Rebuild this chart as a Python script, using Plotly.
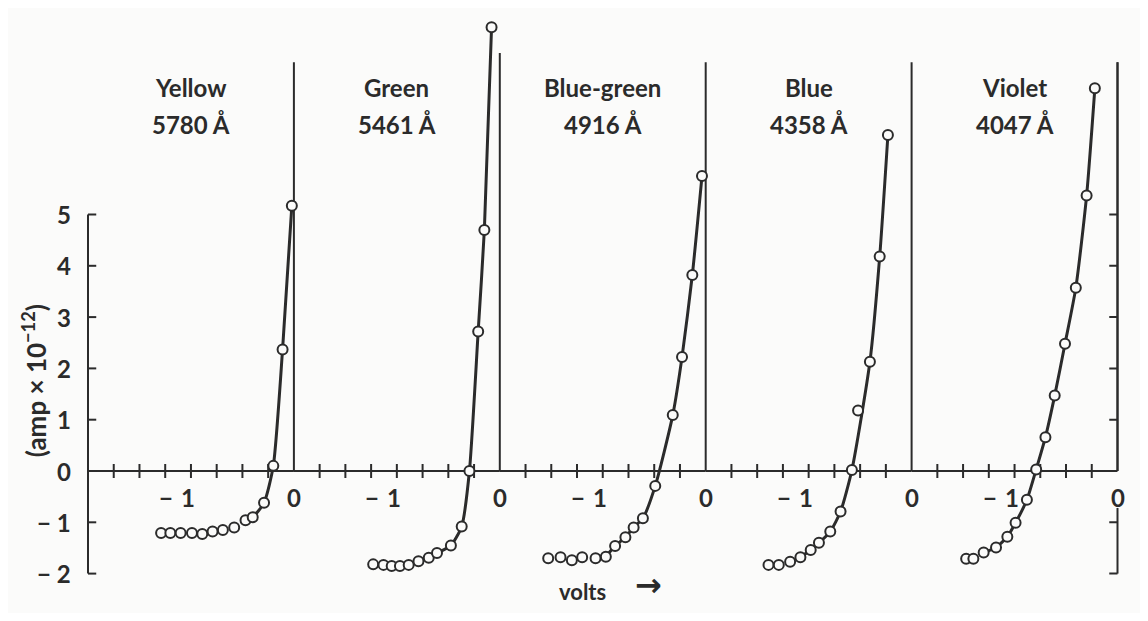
import plotly.graph_objects as go

# ---------------- data ----------------
panel_names = ["Yellow", "Green", "Blue-green", "Blue", "Violet"]
wavelengths = ["5780 Å", "5461 Å", "4916 Å", "4358 Å", "4047 Å"]

yellow_volts = [-1.29, -1.20, -1.10, -0.99, -0.89, -0.79, -0.69, -0.58, -0.47, -0.40, -0.29, -0.20, -0.11, -0.02]
yellow_amp = [-1.21, -1.21, -1.21, -1.21, -1.23, -1.18, -1.15, -1.10, -0.96, -0.90, -0.62, 0.10, 2.37, 5.17]

green_volts = [-1.23, -1.13, -1.05, -0.97, -0.885, -0.79, -0.69, -0.61, -0.475, -0.37, -0.295, -0.21, -0.15, -0.08]
green_amp = [-1.82, -1.83, -1.85, -1.85, -1.83, -1.76, -1.69, -1.60, -1.45, -1.08, 0.0, 2.72, 4.7, 8.65]

bluegreen_volts = [-1.53, -1.41, -1.30, -1.20, -1.07, -0.97, -0.88, -0.78, -0.70, -0.61, -0.49, -0.32, -0.23, -0.13, -0.036]
bluegreen_amp = [-1.70, -1.68, -1.74, -1.68, -1.70, -1.67, -1.46, -1.29, -1.10, -0.92, -0.29, 1.09, 2.22, 3.82, 5.75]

blue_volts = [-1.39, -1.29, -1.18, -1.08, -0.98, -0.90, -0.79, -0.69, -0.58, -0.52, -0.405, -0.31, -0.23]
blue_amp = [-1.83, -1.83, -1.77, -1.68, -1.54, -1.40, -1.18, -0.79, 0.02, 1.18, 2.13, 4.18, 6.55]

violet_volts = [-1.47, -1.40, -1.30, -1.18, -1.07, -0.99, -0.88, -0.79, -0.70, -0.61, -0.51, -0.405, -0.30, -0.22]
violet_amp = [-1.71, -1.71, -1.59, -1.49, -1.28, -1.01, -0.56, 0.03, 0.66, 1.47, 2.48, 3.57, 5.37, 7.46]

series_volts = [yellow_volts, green_volts, bluegreen_volts, blue_volts, violet_volts]
series_amp = [yellow_amp, green_amp, bluegreen_amp, blue_amp, violet_amp]

# index of the first point that the drawn curve passes through
curve_start = [8, 7, 5, 3, 2]
# points that lie off the drawn curve
off_curve = [[], [], [], [9], []]

y_tick_vals = [-2, -1, 0, 1, 2, 3, 4, 5]
y_tick_text = ["\u2212 2", "\u2212 1", "0", "1", "2", "3", "4", "5"]
right_tick_vals = [-2, -1, 1, 2, 3, 4, 5]
x_tick_vals = [-1, 0]
x_tick_text = ["\u2212\u20041", "0"]
x_minor_ticks = [-1.75, -1.5, -1.25, -1.0, -0.75, -0.5, -0.25]
vline_tops = [7.97, 8.15, 7.97, 7.97, 7.97]

# ---------------- layout constants ----------------
OFF = 8                      # page margin around the figure
W, H = 1148 - 2 * OFF, 621 - 2 * OFF
LEFT_PX, PANEL_PX, PAD_PX = 88.0 - OFF, 205.9, 20.0
ZERO_PX, UNIT_PX = 471.0 - OFF, 51.3
V_PER_PX = 2.0 / PANEL_PX
INK = "#2b2b2b"
BG = "#fbfbfa"
FONT = "Lato"
RIGHT_AXIS_PAPER = (LEFT_PX + 5 * PANEL_PX) / W


def px_x(X):
    return (X - OFF) / W


def px_y(Y):
    return 1 - (Y - OFF) / H


fig = go.Figure()

for i in range(5):
    xa = "x" if i == 0 else f"x{i+1}"
    vx = series_volts[i]
    vy = series_amp[i]
    # zero-volt line of the panel (the last one is the right-hand axis)
    fig.add_trace(go.Scatter(x=[0, 0], y=[0, vline_tops[i]], mode="lines", xaxis=xa, yaxis="y",
                             line=dict(color=INK, width=2), cliponaxis=False,
                             hoverinfo="skip", showlegend=False))
    cx = [v for k, v in enumerate(vx) if k >= curve_start[i] and k not in off_curve[i]]
    cy = [v for k, v in enumerate(vy) if k >= curve_start[i] and k not in off_curve[i]]
    fig.add_trace(go.Scatter(x=cx, y=cy, mode="lines", xaxis=xa, yaxis="y",
                             line=dict(color=INK, width=3, shape="spline", smoothing=0.6),
                             hoverinfo="skip", showlegend=False))
    fig.add_trace(go.Scatter(x=x_minor_ticks, y=[0] * len(x_minor_ticks), mode="markers",
                             xaxis=xa, yaxis="y", cliponaxis=False,
                             marker=dict(symbol="line-ns", size=10, line=dict(color=INK, width=2)),
                             hoverinfo="skip", showlegend=False))
    fig.add_trace(go.Scatter(x=vx, y=vy, mode="markers", xaxis=xa, yaxis="y", cliponaxis=False,
                             marker=dict(symbol="circle", size=10, color=BG,
                                         line=dict(color=INK, width=2)),
                             name=panel_names[i], showlegend=False))

layout = dict(
    width=W, height=H,
    margin=dict(l=0, r=0, t=0, b=0),
    paper_bgcolor=BG, plot_bgcolor="rgba(0,0,0,0)",
    showlegend=False,
    yaxis=dict(range=[-(H - ZERO_PX) / UNIT_PX, ZERO_PX / UNIT_PX], domain=[0, 1],
               visible=False, anchor="x"),
)
for i in range(5):
    key = "xaxis" if i == 0 else f"xaxis{i+1}"
    layout[key] = dict(range=[-2 - PAD_PX * V_PER_PX, PAD_PX * V_PER_PX], visible=False, anchor="y",
                       domain=[(LEFT_PX + PANEL_PX * i - PAD_PX) / W,
                               (LEFT_PX + PANEL_PX * (i + 1) + PAD_PX) / W])
fig.update_layout(**layout)

shapes = []
annotations = []
line_style = dict(color=INK, width=2)
for i in range(5):
    xr = "x" if i == 0 else f"x{i+1}"
    shapes.append(dict(type="line", xref=xr, yref="y", x0=-2, x1=0, y0=0, y1=0,
                       line=line_style, layer="below"))
    for v, t in zip(x_tick_vals, x_tick_text):
        annotations.append(dict(xref=xr, yref="y", x=v, y=0, text=t, showarrow=False,
                                xanchor="right" if v < 0 else "center", xshift=6 if v < 0 else 0,
                                yanchor="top", yshift=-10,
                                font=dict(family=FONT, size=24, color=INK, weight="bold")))
    annotations.append(dict(xref=xr, yref="y", x=-1, y=(ZERO_PX - (87.5 - OFF)) / UNIT_PX,
                            text=panel_names[i], showarrow=False,
                            font=dict(family=FONT, size=24, color=INK, weight="bold")))
    annotations.append(dict(xref=xr, yref="y", x=-1, y=(ZERO_PX - (124 - OFF)) / UNIT_PX,
                            text=wavelengths[i], showarrow=False,
                            font=dict(family=FONT, size=24, color=INK, weight="bold")))

# left amp axis
shapes.append(dict(type="line", xref="x", yref="y", x0=-2, x1=-2, y0=-2, y1=5,
                   line=line_style, layer="below"))
for v, t in zip(y_tick_vals, y_tick_text):
    shapes.append(dict(type="line", xref="x", yref="y", x0=-2, x1=-1.92, y0=v, y1=v,
                       line=line_style, layer="below"))
    annotations.append(dict(xref="x", yref="y", x=-2, y=v, text=t, showarrow=False,
                            xanchor="right", xshift=-15,
                            font=dict(family=FONT, size=24, color=INK, weight="bold")))
# right amp axis: upper part (above 0) and lower part (below the "0" label)
shapes.append(dict(type="line", xref="paper", yref="y", x0=RIGHT_AXIS_PAPER, x1=RIGHT_AXIS_PAPER,
                   y0=0, y1=vline_tops[4], line=line_style, layer="above"))
shapes.append(dict(type="line", xref="paper", yref="y", x0=RIGHT_AXIS_PAPER, x1=RIGHT_AXIS_PAPER,
                   y0=-0.72, y1=-2, line=line_style, layer="above"))
for v in right_tick_vals:
    shapes.append(dict(type="line", xref="x5", yref="y", x0=0, x1=-0.08, y0=v, y1=v,
                       line=line_style, layer="above"))

# axis titles
annotations.append(dict(xref="x", yref="y", x=-2, y=1.75, xshift=-54,
                        text="(amp \u00d7 10<sup>\u221212</sup>)", textangle=-90, showarrow=False,
                        font=dict(family=FONT, size=26, color=INK, weight="bold")))
annotations.append(dict(xref="paper", yref="paper", x=px_x(583), y=px_y(607),
                        text="volts", showarrow=False,
                        font=dict(family=FONT, size=22, color=INK, weight="bold")))
annotations.append(dict(xref="paper", yref="paper", x=px_x(648), y=px_y(606),
                        text="\u2192", showarrow=False,
                        font=dict(family="DejaVu Sans", size=32, color=INK, weight="bold")))

fig.update_layout(shapes=shapes, annotations=annotations)
fig.write_html("out.html", config={"displayModeBar": False})
